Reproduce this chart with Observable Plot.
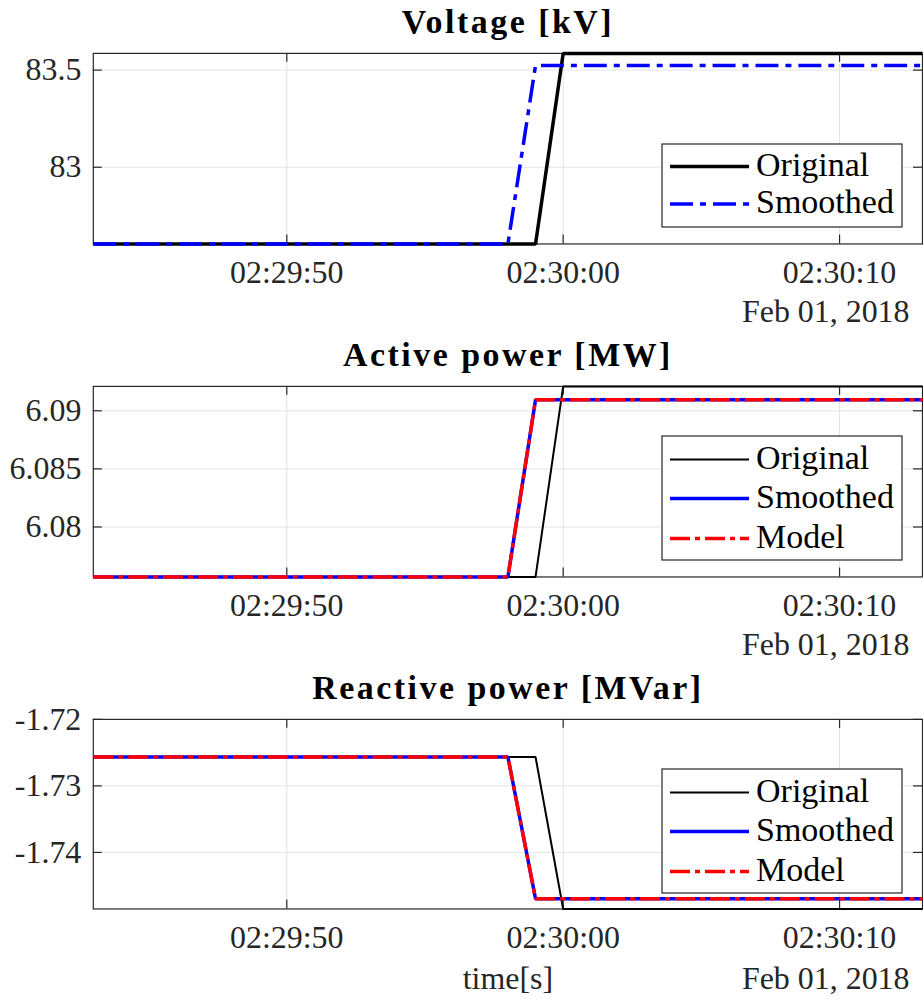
<!DOCTYPE html>
<html><head><meta charset="utf-8">
<script src="https://cdn.jsdelivr.net/npm/d3@7"></script>
<script src="https://cdn.jsdelivr.net/npm/@observablehq/plot@0.6"></script>
<style>
html,body{margin:0;padding:0;background:#fff;overflow:hidden;width:923px;height:1003px;}
#root{position:relative;width:923px;height:1003px;overflow:hidden;background:#fff;}
.panel{position:absolute;left:0;}
.legend{position:absolute;}
svg text{font-family:"Liberation Serif", serif !important;}
</style></head><body><div id="root"></div>
<script>
// ---- data ----
const sampleTimes = ["2018-02-01T02:29:43Z","2018-02-01T02:29:58Z","2018-02-01T02:29:59Z","2018-02-01T02:30:00Z","2018-02-01T02:30:13Z"];
const xDomain = ["2018-02-01T02:29:43Z","2018-02-01T02:30:13Z"];
const xTicks = ["2018-02-01T02:29:50Z","2018-02-01T02:30:00Z","2018-02-01T02:30:10Z"];
const dateLabel = "Feb 01, 2018";
const xLabel = "time[s]";

const titles = ["Voltage [kV]", "Active power [MW]", "Reactive power [MVar]"];

const voltageOriginal = [82.605, 82.605, 82.605, 83.586, 83.586];
const voltageSmoothed = [82.605, 82.605, 83.524, 83.524, 83.524];
const voltageDomain = [82.605, 83.586];
const voltageTicks = [83, 83.5];
const voltageTickLabels = ["83", "83.5"];

const activeOriginal = [6.0757, 6.0757, 6.0757, 6.0921, 6.0921];
const activeSmoothed = [6.0757, 6.0757, 6.09095, 6.09095, 6.09095];
const activeModel = [6.0757, 6.0757, 6.09095, 6.09095, 6.09095];
const activeDomain = [6.0757, 6.0921];
const activeTicks = [6.08, 6.085, 6.09];
const activeTickLabels = ["6.08", "6.085", "6.09"];

const reactiveOriginal = [-1.72565, -1.72565, -1.72565, -1.7485, -1.7485];
const reactiveSmoothed = [-1.72565, -1.72565, -1.74696, -1.74696, -1.74696];
const reactiveModel = [-1.72565, -1.72565, -1.74696, -1.74696, -1.74696];
const reactiveDomain = [-1.7485, -1.72];
const reactiveTicks = [-1.74, -1.73, -1.72];
const reactiveTickLabels = ["-1.74", "-1.73", "-1.72"];

const seriesNames = ["Original", "Smoothed", "Model"];

// ---- rendering ----
const FONT = "Liberation Serif";
const AX = "#262626";
const GRID = "#e3e3e3";
const root = document.getElementById("root");
const parseT = d3.isoParse;

function makePanel(cfg) {
  const W = 925, mL = 93, mR = 1, mT = 53;
  const plotH = cfg.plotH;
  const mB = cfg.height - mT - plotH;
  const plotW = W - mL - mR;
  const xT = xTicks.map(parseT);
  const rows = [];
  cfg.series.forEach(s => s.values.forEach((v, i) => rows.push({series: s.name, t: parseT(sampleTimes[i]), v})));
  const labelOf = new Map(cfg.yTicks.map((t, i) => [t, cfg.yLabels[i]]));
  const marks = [
    Plot.gridX(xT, {stroke: GRID, strokeOpacity: 1, strokeWidth: 1}),
    Plot.gridY(cfg.yTicks, {stroke: GRID, strokeOpacity: 1, strokeWidth: 1}),
    Plot.frame({stroke: AX, strokeWidth: 1.2}),
    Plot.tickX(xT, {x: d => d, stroke: AX, strokeWidth: 1.2, insetTop: plotH - 9}),
    Plot.tickX(xT, {x: d => d, stroke: AX, strokeWidth: 1.2, insetBottom: plotH - 9}),
    Plot.tickY(cfg.yTicks, {y: d => d, stroke: AX, strokeWidth: 1.2, insetRight: plotW - 9}),
    Plot.tickY(cfg.yTicks, {y: d => d, stroke: AX, strokeWidth: 1.2, insetLeft: plotW - 9}),
    ...cfg.series.map(s => Plot.line(rows.filter(r => r.series === s.name), {
      x: "t", y: "v", stroke: s.color, strokeWidth: s.width,
      strokeDasharray: s.dash || null, strokeLinejoin: "miter", strokeLinecap: "butt"
    })),
    Plot.axisX(xT, {tickSize: 0, tickPadding: 16, tickFormat: d3.utcFormat("%H:%M:%S"), fontSize: 32, fontFamily: FONT, fill: AX, label: null}),
    Plot.axisY(cfg.yTicks, {tickSize: 0, tickPadding: 12, tickFormat: d => labelOf.get(d), fontSize: 32, fontFamily: FONT, fill: AX, label: null}),
    Plot.text([cfg.title], {frameAnchor: "top", lineAnchor: "bottom", dy: -20, fontSize: 34, fontFamily: FONT, fontWeight: "bold", fill: "#000"}),
    Plot.text([dateLabel], {frameAnchor: "bottom-right", lineAnchor: "bottom", textAnchor: "end", dy: cfg.dateDy, dx: -13, fontSize: 32, fontFamily: FONT, fill: AX})
  ];
  if (cfg.xlabel) marks.push(Plot.text([xLabel], {frameAnchor: "bottom", lineAnchor: "bottom", dy: cfg.dateDy, fontSize: 32, fontFamily: FONT, fill: AX}));
  const svg = Plot.plot({
    width: W, height: cfg.height,
    marginLeft: mL, marginRight: mR, marginTop: mT, marginBottom: mB,
    style: {fontFamily: FONT, fontSize: "32px", background: "transparent", overflow: "visible"},
    x: {type: "utc", domain: xDomain.map(parseT)},
    y: {domain: cfg.yDomain},
    marks
  });
  svg.querySelectorAll("text").forEach(t => {
    t.setAttribute("font-variant", "normal");
    t.style.fontVariant = "normal";
    if (t.textContent === cfg.title) t.setAttribute("letter-spacing", "2.5px");
  });
  svg.querySelectorAll("g").forEach(g => { if (g.getAttribute("font-variant")) g.setAttribute("font-variant", "normal"); });
  const wrap = document.createElement("div");
  wrap.className = "panel";
  wrap.style.top = cfg.top + "px";
  wrap.appendChild(svg);
  root.appendChild(wrap);

  // legend
  const L = cfg.legend;
  const lg = d3.create("svg").attr("class", "legend")
    .attr("width", L.w + 2).attr("height", L.h + 2)
    .style("left", (L.x - 1) + "px").style("top", (cfg.top + mT + L.y - 1) + "px");
  lg.append("rect").attr("x", 1).attr("y", 1).attr("width", L.w).attr("height", L.h)
    .attr("fill", "#fff").attr("stroke", AX).attr("stroke-width", 1.2);
  cfg.series.forEach((s, i) => {
    const cy = 1 + L.rows[i];
    lg.append("line").attr("x1", 9).attr("x2", 88).attr("y1", cy).attr("y2", cy)
      .attr("stroke", s.color).attr("stroke-width", s.legendWidth || s.width)
      .attr("stroke-dasharray", s.legendDash === undefined ? (s.dash || null) : s.legendDash);
    lg.append("text").attr("x", 95).attr("y", cy + 9).attr("font-family", FONT)
      .attr("font-size", 34).attr("fill", "#000").text(s.name);
  });
  root.appendChild(lg.node());
}

makePanel({
  top: 0, height: 333, plotH: 191, dateDy: 78,
  title: titles[0], yDomain: voltageDomain, yTicks: voltageTicks, yLabels: voltageTickLabels,
  series: [
    {name: seriesNames[0], values: voltageOriginal, color: "#000", width: 3.5},
    {name: seriesNames[1], values: voltageSmoothed, color: "#0000ff", width: 3.5, dash: "23,7,6,7"}
  ],
  legend: {x: 662, y: 91, w: 240, h: 83, rows: [22.5, 60]}
});
makePanel({
  top: 333, height: 333, plotH: 191, dateDy: 78,
  title: titles[1], yDomain: activeDomain, yTicks: activeTicks, yLabels: activeTickLabels,
  series: [
    {name: seriesNames[0], values: activeOriginal, color: "#000", width: 2},
    {name: seriesNames[1], values: activeSmoothed, color: "#0000ff", width: 3.5},
    {name: seriesNames[2], values: activeModel, color: "#ff0000", width: 3.5, dash: "20,5,5,5"}
  ],
  legend: {x: 662, y: 50, w: 240, h: 124, rows: [23.5, 62.5, 102.5]}
});
makePanel({
  top: 666, height: 337, plotH: 190, dateDy: 80, xlabel: true,
  title: titles[2], yDomain: reactiveDomain, yTicks: reactiveTicks, yLabels: reactiveTickLabels,
  series: [
    {name: seriesNames[0], values: reactiveOriginal, color: "#000", width: 2},
    {name: seriesNames[1], values: reactiveSmoothed, color: "#0000ff", width: 3.5},
    {name: seriesNames[2], values: reactiveModel, color: "#ff0000", width: 3.5, dash: "20,5,5,5"}
  ],
  legend: {x: 662, y: 50, w: 240, h: 124, rows: [23.5, 62.5, 102.5]}
});
</script></body></html>
